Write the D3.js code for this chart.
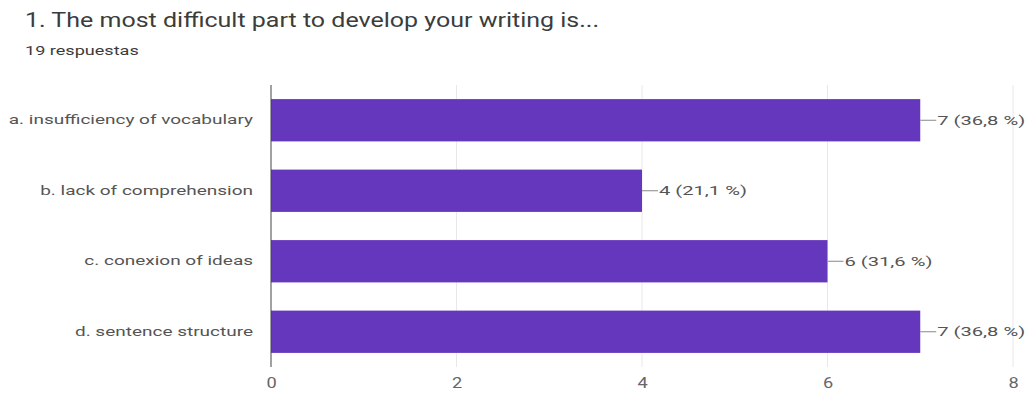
<!DOCTYPE html>
<html>
<head>
<meta charset="utf-8">
<script src="https://cdn.jsdelivr.net/npm/d3@7"></script>
<style>
  html, body { margin: 0; padding: 0; background: #fff; }
  svg { display: block; font-family: Roboto, Arial, sans-serif; }
</style>
</head>
<body>
<svg id="chart" width="1029" height="395"></svg>
<script>
const categories = [
  "a. insufficiency of vocabulary",
  "b. lack of comprehension",
  "c. conexion of ideas",
  "d. sentence structure"
];
const counts = [7, 4, 6, 7];
const percents = ["36,8 %", "21,1 %", "31,6 %", "36,8 %"];
const xTicks = [0, 2, 4, 6, 8];
const title = "1. The most difficult part to develop your writing is...";
const subtitle = "19 respuestas";

const svg = d3.select("#chart");
const margin = { left: 271, right: 16, top: 85, bottom: 28 };
const W = 1029, H = 395;

// widen glyph runs horizontally by a factor
function stretch(sel, k) {
  sel.each(function () {
    const w = this.getComputedTextLength();
    d3.select(this).attr("textLength", w * k).attr("lengthAdjust", "spacingAndGlyphs");
  });
}

const x = d3.scaleLinear().domain([0, 8]).range([margin.left, 1013]);
const y = d3.scaleBand().domain(categories).range([margin.top, H - margin.bottom]).paddingInner(0.4).paddingOuter(0.2);

svg.append("text").attr("x", 25).attr("y", 27)
  .attr("font-size", 20).attr("fill", "#3c3c3c").text(title).call(stretch, 1.25);
svg.append("text").attr("x", 25).attr("y", 55)
  .attr("font-size", 13).attr("fill", "#3c3c3c").text(subtitle).call(stretch, 1.39);

// vertical gridlines
svg.append("g").selectAll("line").data(xTicks.filter(d => d > 0)).join("line")
  .attr("x1", d => x(d)).attr("x2", d => x(d))
  .attr("y1", margin.top).attr("y2", H - margin.bottom)
  .attr("stroke", "#e8e8e8").attr("stroke-width", 1);

// bars
svg.append("g").selectAll("rect").data(categories).join("rect")
  .attr("x", x(0)).attr("y", d => y(d))
  .attr("width", (d, i) => x(counts[i]) - x(0))
  .attr("height", y.bandwidth())
  .attr("fill", "#6537bd");

// value labels with leader lines
const lab = svg.append("g").selectAll("g").data(categories).join("g")
  .attr("transform", (d, i) => `translate(${x(counts[i])},${y(d) + y.bandwidth() / 2})`);
lab.append("line").attr("x1", 0).attr("x2", 16).attr("y1", 0).attr("y2", 0)
  .attr("stroke", "#888").attr("stroke-width", 1);
lab.append("text").attr("x", 17).attr("dy", "0.35em")
  .attr("font-size", 13).attr("fill", "#555")
  .text((d, i) => `${counts[i]} (${percents[i]})`)
  .call(stretch, 1.55);

// category axis
const yAxis = svg.append("g").attr("transform", `translate(${x(0)},0)`)
  .call(d3.axisLeft(y).tickSize(0).tickPadding(18));
yAxis.select(".domain").remove();
yAxis.selectAll("text").attr("font-size", 13).attr("fill", "#555")
  .attr("font-family", "Roboto, Arial, sans-serif").call(stretch, 1.46);
svg.append("line").attr("x1", x(0)).attr("x2", x(0))
  .attr("y1", margin.top).attr("y2", H - margin.bottom)
  .attr("stroke", "#444").attr("stroke-width", 1);

// value axis
const xAxis = svg.append("g").attr("transform", `translate(0,${H - margin.bottom})`)
  .call(d3.axisBottom(x).tickValues(xTicks).tickSize(0).tickPadding(11));
xAxis.select(".domain").remove();
xAxis.selectAll("text").attr("font-size", 14).attr("fill", "#666")
  .attr("font-family", "Roboto, Arial, sans-serif").call(stretch, 1.3);
</script>
</body>
</html>
